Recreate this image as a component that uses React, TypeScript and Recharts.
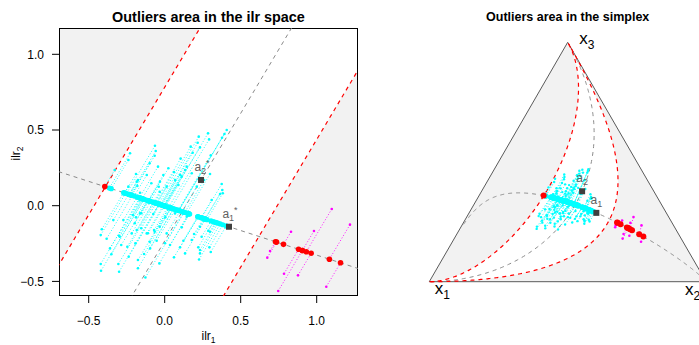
import React from 'react';
import { ScatterChart, Scatter, XAxis, YAxis } from 'recharts';

const FONT = '"Liberation Sans", Arial, Helvetica, sans-serif';

// ---------- data (ilr coordinates) ----------
const regularIlr1: number[] = [
  0.408, 0.393, 0.377, 0.285, 0.292, 0.303, 0.224, 0.217, 0.232, 0.171,
  0.184, 0.105, -0.064, -0.059, -0.066, -0.329, -0.189, -0.184, 0.375, 0.379,
  0.364, 0.298, 0.259, 0.024, 0.061, 0.145, -0.118, -0.031, 0.013, -0.239,
  -0.162, 0.112, 0.178, 0.090, 0.211, -0.414, -0.421, -0.421, -0.419, -0.382,
  -0.360, -0.300, -0.305, -0.300, -0.246, -0.237, -0.189, -0.184, -0.193, -0.136,
  -0.127, -0.075, -0.070, -0.053, 0.004, 0.013, 0.061, 0.112, 0.123, 0.134,
  0.193, 0.221, 0.226, 0.287, 0.294, 0.303, -0.035, -0.118, -0.272, -0.338,
  0.068, 0.145, 0.232, -0.096, 0.035, -0.162, -0.217, 0.232, -0.239, -0.228,
  -0.099, -0.044, -0.176, -0.180, -0.088, -0.039, -0.033, -0.351, -0.296, -0.286,
  -0.209, -0.197, -0.154, -0.154, -0.176, -0.176, -0.110, -0.099, -0.066, -0.033,
  -0.009, 0.068, 0.101, 0.134, 0.382, 0.309, 0.298, 0.243, 0.232, 0.178,
  0.101, 0.002,
];
const regularIlr2: number[] = [
  0.500, 0.474, 0.449, 0.478, 0.438, 0.333, 0.456, 0.416, 0.385, 0.390,
  0.350, 0.311, 0.396, 0.361, 0.330, 0.236, 0.209, 0.159, 0.143, 0.104,
  0.077, 0.209, 0.170, 0.247, 0.222, 0.258, 0.203, 0.159, 0.126, 0.126,
  0.086, 0.192, 0.214, 0.137, 0.126, -0.156, -0.194, -0.385, -0.430, -0.218,
  -0.282, -0.198, -0.385, -0.436, -0.271, -0.337, -0.077, -0.161, -0.249, -0.319,
  -0.474, -0.055, -0.161, -0.231, -0.077, -0.183, -0.341, -0.143, -0.231, -0.315,
  -0.187, -0.275, -0.355, -0.165, -0.275, -0.306, -0.381, -0.183, -0.095, -0.095,
  -0.051, -0.073, -0.139, -0.282, -0.260, -0.051, -0.183, -0.315, 0.302, 0.346,
  0.280, 0.258, 0.170, 0.130, 0.148, 0.125, 0.092, -0.321, -0.205, -0.260,
  -0.061, -0.116, -0.050, -0.149, -0.359, -0.413, -0.182, -0.238, -0.172, -0.139,
  0.203, 0.170, 0.203, 0.236, 0.082, 0.038, -0.172, -0.205, -0.293, -0.227,
  -0.275, -0.248,
];
const outlierIlr1: number[] = [0.831, 0.693, 0.675, 0.982, 1.099, 1.219, 0.785, 0.747, 0.877, 1.063];
const outlierIlr2: number[] = [-0.172, -0.299, -0.343, -0.167, -0.022, -0.125, -0.449, -0.563, -0.460, -0.535];

const centerIlr = { x: 0.115, y: -0.039 };
const a1StarIlr = { x: 0.423, y: -0.139 };
const a2StarIlr = { x: 0.239, y: 0.170 };
const outlierCutoff = 1.64; // boundary, in units of a1*

const ilrXDomain: [number, number] = [-0.6954, 1.2717];
const ilrYDomain: [number, number] = [-0.5964, 1.1737];
const ilrXTicks = [-0.5, 0, 0.5, 1.0];
const ilrYTicks = [-0.5, 0, 0.5, 1.0];
const vertexSubscripts = ['1', '2', '3'];
const a1LineRange = [-12.4, 16];
const a2LineRange = [-36, 36];

// ---------- derived geometry ----------
type P = { x: number; y: number };
const v1 = { x: a1StarIlr.x - centerIlr.x, y: a1StarIlr.y - centerIlr.y };
const v2 = { x: a2StarIlr.x - centerIlr.x, y: a2StarIlr.y - centerIlr.y };
const det = v1.x * v2.y - v1.y * v2.x;
const alphaOf = (p: P) => ((p.x - centerIlr.x) * v2.y - (p.y - centerIlr.y) * v2.x) / det;
const along = (b: P, v: P, s: number): P => ({ x: b.x + s * v.x, y: b.y + s * v.y });
const projOf = (p: P) => along(centerIlr, v1, alphaOf(p));
const isOut = (p: P) => Math.abs(alphaOf(p)) > outlierCutoff;
const boundL = along(centerIlr, v1, -outlierCutoff);
const boundR = along(centerIlr, v1, outlierCutoff);

const regular: P[] = regularIlr1.map((x, i) => ({ x, y: regularIlr2[i] }));
const outliers: P[] = outlierIlr1.map((x, i) => ({ x, y: outlierIlr2[i] }));
const allObs = [...regular, ...outliers];
const projCyan = allObs.filter((p) => !isOut(p)).map(projOf);
const projRed = allObs.filter(isOut).map(projOf);
const segs = (pts: P[]) => pts.flatMap((p) => [p, projOf(p)]);

const SQ3H = Math.sqrt(3) / 2;
const toTern = (p: P): P => {
  const c1 = -p.x / Math.SQRT2 - p.y / Math.sqrt(6);
  const c2 = p.x / Math.SQRT2 - p.y / Math.sqrt(6);
  const c3 = (2 * p.y) / Math.sqrt(6);
  const m = Math.max(c1, c2, c3);
  const e1 = Math.exp(c1 - m), e2 = Math.exp(c2 - m), e3 = Math.exp(c3 - m);
  const s = e1 + e2 + e3;
  return { x: (e2 + e3 / 2) / s, y: (e3 / s) * SQ3H };
};
const sampleLine = (b: P, v: P, r: number[], n = 500) => {
  const out: P[] = [];
  for (let i = 0; i <= n; i++) out.push(along(b, v, r[0] + ((r[1] - r[0]) * i) / n));
  return out;
};
const ends = (b: P, v: P, r: number[]) => [along(b, v, r[0]), along(b, v, r[1])];

const boxPoly: P[] = [
  { x: ilrXDomain[0], y: ilrYDomain[0] },
  { x: ilrXDomain[1], y: ilrYDomain[0] },
  { x: ilrXDomain[1], y: ilrYDomain[1] },
  { x: ilrXDomain[0], y: ilrYDomain[1] },
];
const clipPoly = (poly: P[], f: (p: P) => number) => {
  const out: P[] = [];
  for (let i = 0; i < poly.length; i++) {
    const a = poly[i], b = poly[(i + 1) % poly.length];
    const fa = f(a), fb = f(b);
    if (fa >= 0) out.push(a);
    if (fa >= 0 !== fb >= 0) {
      const t = fa / (fa - fb);
      out.push({ x: a.x + t * (b.x - a.x), y: a.y + t * (b.y - a.y) });
    }
  }
  return out;
};
const leftShade = clipPoly(boxPoly, (p) => -outlierCutoff - alphaOf(p));
const rightShade = clipPoly(boxPoly, (p) => alphaOf(p) - outlierCutoff);

const vtx = [
  { x: 0, y: 0, name: vertexSubscripts[0] },
  { x: 1, y: 0, name: vertexSubscripts[1] },
  { x: 0.5, y: SQ3H, name: vertexSubscripts[2] },
];
const leftRedCurve = sampleLine(boundL, v2, a2LineRange).map(toTern);
const rightRedCurve = sampleLine(boundR, v2, a2LineRange).map(toTern);
const a1Curve = sampleLine(centerIlr, v1, a1LineRange).map(toTern);
const a2Curve = sampleLine(centerIlr, v2, a2LineRange).map(toTern);
const simplexLeftShade = [vtx[0], vtx[2], ...[...leftRedCurve].reverse()];
const simplexRightShade = [...rightRedCurve, vtx[2], vtx[1], vtx[0]];

// ---------- render helpers ----------
const CYAN = '#00ffff';
const MAGENTA = '#ff00ff';
const RED = '#ff0000';
const noShape = () => <g />;
const dot = (r: number, fill: string) => (p: any) => <circle cx={p.cx} cy={p.cy} r={r} fill={fill} />;
const segLine = (stroke: string) => (props: any) => {
  const pts = props.points || [];
  let d = '';
  for (let i = 0; i + 1 < pts.length; i += 2) d += `M${pts[i].x},${pts[i].y}L${pts[i + 1].x},${pts[i + 1].y}`;
  return <path d={d} fill="none" stroke={stroke} strokeWidth={0.9} strokeDasharray="1 2" />;
};
const squareShape = (sub: string, star: boolean) => (p: any) => (
  <g>
    <rect x={p.cx - 3} y={p.cy - 3} width={6} height={6} fill="#404040" />
    <text x={p.cx + (star ? 1 : 0)} y={p.cy - 9} textAnchor="middle" fontSize={12} fontFamily={FONT} fill="#606060">
      a<tspan fontSize={9} dy={3}>{sub}</tspan>
      {star ? <tspan fontSize={9} dy={-8}>*</tspan> : null}
    </text>
  </g>
);
const vertexOffset: Record<string, [number, number]> = { '1': [5.5, 12.5], '2': [-21, 13.5], '3': [11.5, 2] };
const vertexShape = (p: any) => {
  const k = p.payload.name as string;
  const [dx, dy] = vertexOffset[k];
  return (
    <text x={p.cx + dx} y={p.cy + dy} fontSize={17} fontFamily={FONT} fill="#000">
      x<tspan fontSize={12} dy={5}>{k}</tspan>
    </text>
  );
};
const fmt = (v: number) => (v < 0 ? '\u2212' : '') + Math.abs(v).toFixed(1);
const tickStyle = { fontSize: 12, fill: '#000', fontFamily: FONT };

export default function App() {
  return (
    <div style={{ position: 'absolute', left: 0, top: 0, width: 699, height: 345, overflow: 'hidden', background: '#fff' }}>
      <div style={{ position: 'absolute', left: 0, top: 0 }}>
        <ScatterChart width={365} height={345} margin={{ top: 28, right: 7, bottom: 0, left: 0 }}>
          <XAxis type="number" dataKey="x" domain={ilrXDomain} allowDataOverflow ticks={ilrXTicks} interval={0}
            tickFormatter={fmt} axisLine={false} tickSize={7} tickMargin={13} height={49} tick={tickStyle}
            tickLine={{ stroke: '#000' }} />
          <YAxis type="number" dataKey="y" domain={ilrYDomain} allowDataOverflow ticks={ilrYTicks} interval={0}
            tickFormatter={fmt} axisLine={false} tickSize={7} tickMargin={8} width={59} tick={tickStyle}
            tickLine={{ stroke: '#000' }} />
          <Scatter data={leftShade} shape={noShape} line={{ fill: '#f2f2f2', stroke: 'none' }} isAnimationActive={false} />
          <Scatter data={rightShade} shape={noShape} line={{ fill: '#f2f2f2', stroke: 'none' }} isAnimationActive={false} />
          <Scatter data={[...boxPoly, boxPoly[0]]} shape={noShape} line={{ stroke: '#000', strokeWidth: 2 }} isAnimationActive={false} />
          <Scatter data={ends(centerIlr, v1, a1LineRange)} shape={noShape} line={{ stroke: '#8a8a8a', strokeWidth: 1, strokeDasharray: '4 4' }} isAnimationActive={false} />
          <Scatter data={ends(centerIlr, v2, a2LineRange)} shape={noShape} line={{ stroke: '#8a8a8a', strokeWidth: 1, strokeDasharray: '4 4' }} isAnimationActive={false} />
          <Scatter data={ends(boundL, v2, a2LineRange)} shape={noShape} line={{ stroke: RED, strokeWidth: 1.2, strokeDasharray: '4 4' }} isAnimationActive={false} />
          <Scatter data={ends(boundR, v2, a2LineRange)} shape={noShape} line={{ stroke: RED, strokeWidth: 1.2, strokeDasharray: '4 4' }} isAnimationActive={false} />
          <Scatter data={segs(regular)} shape={noShape} line={segLine(CYAN)} isAnimationActive={false} />
          <Scatter data={segs(outliers)} shape={noShape} line={segLine(MAGENTA)} isAnimationActive={false} />
          <Scatter data={regular} shape={dot(1.3, CYAN)} isAnimationActive={false} />
          <Scatter data={outliers} shape={dot(1.3, MAGENTA)} isAnimationActive={false} />
          <Scatter data={projCyan} shape={dot(2.6, CYAN)} isAnimationActive={false} />
          <Scatter data={projRed} shape={dot(2.8, RED)} isAnimationActive={false} />
          <Scatter data={[a1StarIlr]} shape={squareShape('1', true)} isAnimationActive={false} />
          <Scatter data={[a2StarIlr]} shape={squareShape('2', true)} isAnimationActive={false} />
        </ScatterChart>
      </div>
      <div style={{ position: 'absolute', left: 380, top: 0 }}>
        <ScatterChart width={340} height={345} margin={{ top: 42.3, right: 13.9, bottom: 63.3, left: 49.3 }}>
          <XAxis type="number" dataKey="x" domain={[0, 1]} hide />
          <YAxis type="number" dataKey="y" domain={[0, SQ3H]} hide />
          <Scatter data={simplexLeftShade} shape={noShape} line={{ fill: '#f2f2f2', stroke: 'none' }} isAnimationActive={false} />
          <Scatter data={simplexRightShade} shape={noShape} line={{ fill: '#f2f2f2', stroke: 'none' }} isAnimationActive={false} />
          <Scatter data={[vtx[0], vtx[1], vtx[2], vtx[0]]} shape={noShape} line={{ stroke: '#5a5a5a', strokeWidth: 1 }} isAnimationActive={false} />
          <Scatter data={a1Curve} shape={noShape} line={{ stroke: '#8a8a8a', strokeWidth: 1, strokeDasharray: '4 4' }} isAnimationActive={false} />
          <Scatter data={a2Curve} shape={noShape} line={{ stroke: '#8a8a8a', strokeWidth: 1, strokeDasharray: '4 4' }} isAnimationActive={false} />
          <Scatter data={leftRedCurve} shape={noShape} line={{ stroke: RED, strokeWidth: 1.2, strokeDasharray: '4 4' }} isAnimationActive={false} />
          <Scatter data={rightRedCurve} shape={noShape} line={{ stroke: RED, strokeWidth: 1.2, strokeDasharray: '4 4' }} isAnimationActive={false} />
          <Scatter data={segs(regular).map(toTern)} shape={noShape} line={segLine(CYAN)} isAnimationActive={false} />
          <Scatter data={segs(outliers).map(toTern)} shape={noShape} line={segLine(MAGENTA)} isAnimationActive={false} />
          <Scatter data={regular.map(toTern)} shape={dot(1.2, CYAN)} isAnimationActive={false} />
          <Scatter data={outliers.map(toTern)} shape={dot(1.3, MAGENTA)} isAnimationActive={false} />
          <Scatter data={projCyan.map(toTern)} shape={dot(2.7, CYAN)} isAnimationActive={false} />
          <Scatter data={projRed.map(toTern)} shape={dot(3, RED)} isAnimationActive={false} />
          <Scatter data={[toTern(a1StarIlr)]} shape={squareShape('1', false)} isAnimationActive={false} />
          <Scatter data={[toTern(a2StarIlr)]} shape={squareShape('2', false)} isAnimationActive={false} />
          <Scatter data={vtx} shape={vertexShape} isAnimationActive={false} />
        </ScatterChart>
      </div>
      <svg width={699} height={345} style={{ position: 'absolute', left: 0, top: 0, pointerEvents: 'none' }} fontFamily={FONT}>
        <text x={208.5} y={22.3} textAnchor="middle" fontSize={14.4} fontWeight="bold" fill="#000">Outliers area in the ilr space</text>
        <text x={567.7} y={21} textAnchor="middle" fontSize={12.5} fontWeight="bold" fill="#000">Outliers area in the simplex</text>
        <text x={208.5} y={340} textAnchor="middle" fontSize={12} fill="#000">ilr<tspan fontSize={8.5} dy={2.5}>1</tspan></text>
        <text transform="rotate(-90 20 153.5)" x={20} y={153.5} textAnchor="middle" fontSize={12} fill="#000">ilr<tspan fontSize={8.5} dy={2.5}>2</tspan></text>
      </svg>
    </div>
  );
}
